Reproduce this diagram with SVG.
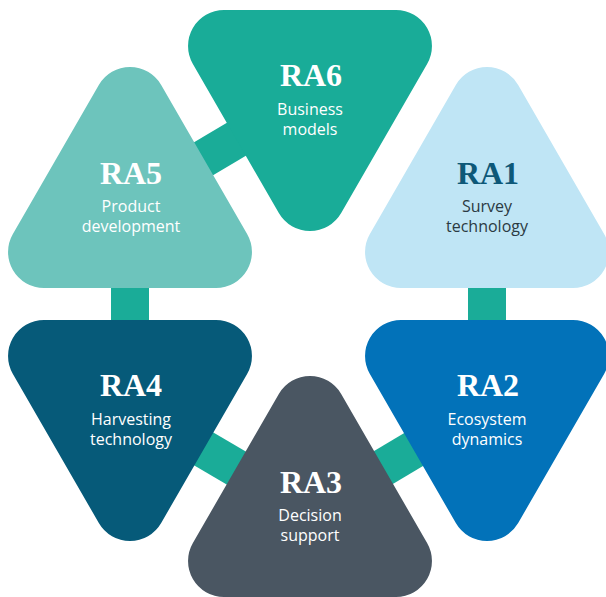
<svg xmlns="http://www.w3.org/2000/svg" xmlns:xlink="http://www.w3.org/1999/xlink" width="606" height="597" viewBox="0 0 606 597">
  <style>
    .link { stroke: #1AAC98; stroke-width: 38; stroke-linecap: butt; fill: none; }
    .code { font-family: "Liberation Serif", "DejaVu Serif", serif; font-weight: bold; font-size: 32px; text-anchor: middle; }
    .desc { font-family: "Open Sans", "Noto Sans", sans-serif; font-size: 16px; text-anchor: middle; }
    .light { fill: #FFFFFF; }
    .dark-code { fill: #0D5878; }
    .dark-desc { fill: #2B3A42; }
  </style>
  <defs>
    <!-- equilateral triangle, apex at origin, side 296.6, corner radius 36 -->
    <path id="tri" d="M -31.18,54.02 A 36 36 0 0 1 31.18,54.02 L 117.12,202.98 A 36 36 0 0 1 85.95,257 L -85.95,257 A 36 36 0 0 1 -117.12,202.98 Z"/>
  </defs>

  <!-- bars joining neighbouring triangles (centroid to centroid, hidden under the shapes) -->
  <g id="connectors">
    <line class="link" x1="130" y1="202.3" x2="310" y2="95.7"/>
    <line class="link" x1="130" y1="202.3" x2="130" y2="405.7"/>
    <line class="link" x1="130" y1="405.7" x2="310" y2="511.3"/>
    <line class="link" x1="310" y1="511.3" x2="487" y2="405.7"/>
    <line class="link" x1="487" y1="405.7" x2="487" y2="202.3"/>
  </g>

  <g id="ra6">
    <use xlink:href="#tri" href="#tri" transform="translate(310,267) scale(1,-1)" fill="#19AC98"/>
    <text class="code light" x="311" y="86">RA6</text>
    <text class="desc light" x="310" y="115">Business</text>
    <text class="desc light" x="310" y="135">models</text>
  </g>

  <g id="ra5">
    <use xlink:href="#tri" href="#tri" transform="translate(130,31)" fill="#6DC4BC"/>
    <text class="code light" x="131" y="184">RA5</text>
    <text class="desc light" x="131" y="212">Product</text>
    <text class="desc light" x="131" y="232">development</text>
  </g>

  <g id="ra1">
    <use xlink:href="#tri" href="#tri" transform="translate(487,31)" fill="#BFE5F5"/>
    <text class="code dark-code" x="488" y="184">RA1</text>
    <text class="desc dark-desc" x="487" y="212">Survey</text>
    <text class="desc dark-desc" x="487" y="232">technology</text>
  </g>

  <g id="ra4">
    <use xlink:href="#tri" href="#tri" transform="translate(130,577) scale(1,-1)" fill="#065A79"/>
    <text class="code light" x="131" y="396">RA4</text>
    <text class="desc light" x="131" y="425">Harvesting</text>
    <text class="desc light" x="131" y="445">technology</text>
  </g>

  <g id="ra2">
    <use xlink:href="#tri" href="#tri" transform="translate(487,577) scale(1,-1)" fill="#0272B9"/>
    <text class="code light" x="488" y="396">RA2</text>
    <text class="desc light" x="487" y="425">Ecosystem</text>
    <text class="desc light" x="487" y="445">dynamics</text>
  </g>

  <g id="ra3">
    <use xlink:href="#tri" href="#tri" transform="translate(310,340)" fill="#4A5662"/>
    <text class="code light" x="311" y="493">RA3</text>
    <text class="desc light" x="310" y="521">Decision</text>
    <text class="desc light" x="310" y="541">support</text>
  </g>
</svg>
